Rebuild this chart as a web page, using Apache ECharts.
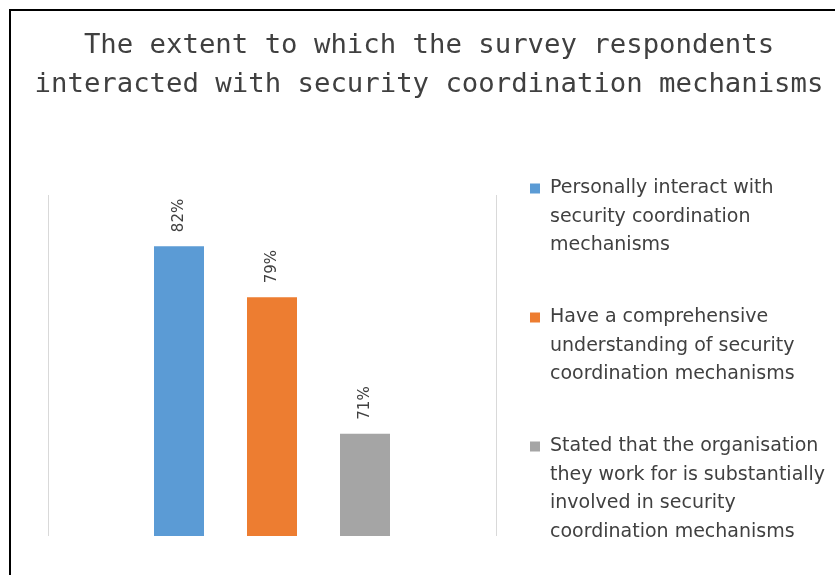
<!DOCTYPE html>
<html>
<head>
<meta charset="utf-8">
<script src="https://cdn.jsdelivr.net/npm/echarts@6/dist/echarts.min.js"></script>
<style>
  html, body { margin: 0; padding: 0; background: #ffffff; }
  #chart { width: 835px; height: 575px; }
</style>
</head>
<body>
<div id="chart"></div>
<script>
// Survey results: share of respondents for each statement
const titleLines = [
  'The extent to which the survey respondents',
  'interacted with security coordination mechanisms'
];
const seriesNames = [
  'Personally interact with security coordination mechanisms',
  'Have a comprehensive understanding of security coordination mechanisms',
  'Stated that the organisation they work for is substantially involved in security coordination mechanisms'
];
const legendLines = [
  ['Personally interact with', 'security coordination', 'mechanisms'],
  ['Have a comprehensive', 'understanding of security', 'coordination mechanisms'],
  ['Stated that the organisation', 'they work for is substantially', 'involved in security', 'coordination mechanisms']
];
const values = [82, 79, 71];
const colors = ['#5B9BD5', '#ED7D31', '#A5A5A5'];

const LH = 28.5;
const firstLineY = [188, 317, 446];

const chart = echarts.init(document.getElementById('chart'), null, { renderer: 'canvas' });

const series = seriesNames.map((name, i) => ({
  name: name,
  type: 'bar',
  data: [values[i]],
  barWidth: 50,
  barGap: '86%',
  itemStyle: { color: colors[i] },
  label: {
    show: true,
    position: 'top',
    rotate: 90,
    align: 'left',
    verticalAlign: 'middle',
    distance: 14,
    formatter: '{c}%',
    color: '#404040',
    fontFamily: 'DejaVu Sans',
    fontSize: 15
  }
}));

// one legend block per series; rich text with top padding keeps the first
// line level with the colour marker
const legends = seriesNames.map((name, i) => {
  const n = legendLines[i].length;
  return {
    orient: 'vertical',
    left: 530,
    top: firstLineY[i] - 9,
    padding: 0,
    itemWidth: 10,
    itemHeight: 10,
    icon: 'rect',
    selectedMode: false,
    data: [name],
    formatter: () => legendLines[i].map(l => '{t|' + l + '}').join('\n'),
    textStyle: {
      padding: [(n - 1) * LH, 0, 0, 5],
      rich: {
        t: {
          fontFamily: 'DejaVu Sans',
          fontSize: 19,
          color: '#404040',
          lineHeight: LH
        }
      }
    }
  };
});

chart.setOption({
  animation: false,
  backgroundColor: '#ffffff',
  color: colors,
  title: {
    text: titleLines.join('\n'),
    left: 429,
    top: 26,
    textAlign: 'center',
    padding: 0,
    textStyle: {
      fontFamily: 'DejaVu Sans Mono',
      fontWeight: 'normal',
      fontSize: 27.3,
      lineHeight: 39,
      color: '#404040'
    }
  },
  legend: legends,
  grid: { left: 48, right: 339, top: 195, bottom: 39 },
  xAxis: {
    type: 'category',
    data: [''],
    axisLine: { show: false },
    axisTick: { show: false },
    axisLabel: { show: false },
    splitLine: { show: true, lineStyle: { color: '#d9d9d9', width: 1 } }
  },
  yAxis: {
    type: 'value',
    min: 65,
    max: 85,
    show: false
  },
  series: series,
  graphic: [{
    type: 'polyline',
    silent: true,
    shape: { points: [[10, 580], [10, 10], [840, 10]] },
    style: { stroke: '#000000', lineWidth: 2, fill: null }
  }]
});
</script>
</body>
</html>
